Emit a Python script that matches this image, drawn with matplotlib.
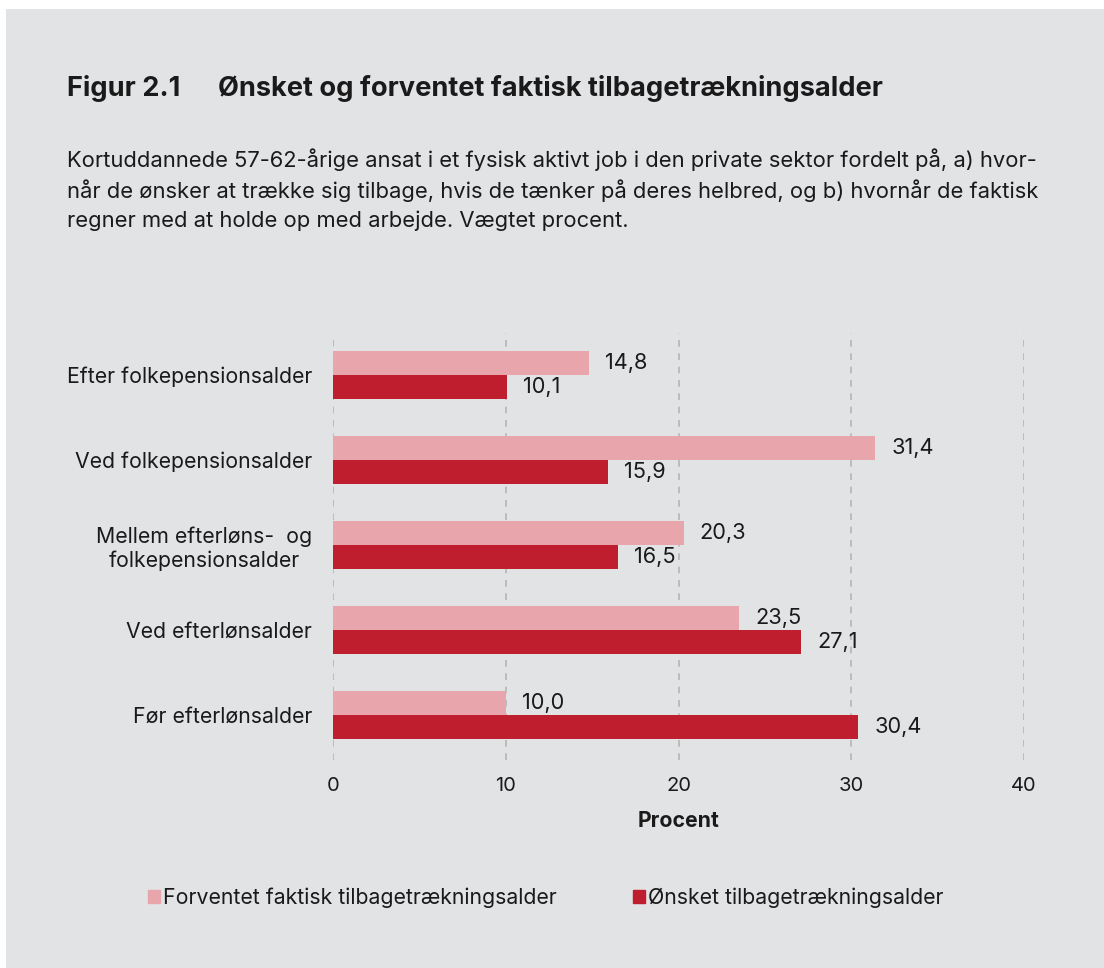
import matplotlib.pyplot as plt
import matplotlib.patches as mpatches
import numpy as np

plt.rcParams['font.family'] = ['Inter', 'DejaVu Sans']

# data (bottom to top)
categories = ["Før efterlønsalder", "Ved efterlønsalder",
              "Mellem efterløns-  og\nfolkepensionsalder",
              "Ved folkepensionsalder", "Efter folkepensionsalder"]
forventet = [10.0, 23.5, 20.3, 31.4, 14.8]
oensket = [30.4, 27.1, 16.5, 15.9, 10.1]
xticks = [0, 10, 20, 30, 40]

bg = "#e2e3e5"
pink = "#e8a6ac"
red = "#be1e2d"
txt = "#1a1a1a"

fig = plt.figure(figsize=(11.04, 9.68), dpi=100)
fig.patch.set_facecolor("white")
# grey panel (small white margin top/left as in source)
fig.patches.append(mpatches.Rectangle((6/1104, 0), 1, 1 - 9/968, transform=fig.transFigure,
                                      facecolor=bg, edgecolor="none", zorder=-10))

fig.text(67/1104, 1 - 88/968, "Figur 2.1", fontsize=19.6, fontweight="bold", color=txt, va="center")
fig.text(218/1104, 1 - 88/968, "Ønsket og forventet faktisk tilbagetrækningsalder",
         fontsize=19.6, fontweight="bold", color=txt, va="center")
fig.text(67/1104, 1 - 148/968,
         "Kortuddannede 57-62-årige ansat i et fysisk aktivt job i den private sektor fordelt på, a) hvor-\n"
         "når de ønsker at trække sig tilbage, hvis de tænker på deres helbred, og b) hvornår de faktisk\n"
         "regner med at holde op med arbejde. Vægtet procent.",
         fontsize=15.8, color=txt, va="top", linespacing=1.48)

ax = fig.add_axes([333/1104, 1 - 760/968, 691/1104, 427/968])
ax.set_facecolor("none")

y = np.arange(len(categories))
h = 0.282
b1 = ax.barh(y + h/2, forventet, height=h, color=pink, label="Forventet faktisk tilbagetrækningsalder")
b2 = ax.barh(y - h/2, oensket, height=h, color=red, label="Ønsket tilbagetrækningsalder")

for bars, vals in [(b1, forventet), (b2, oensket)]:
    for bar, v in zip(bars, vals):
        ax.annotate(f"{v:.1f}".replace(".", ","), (bar.get_width(), bar.get_y() + bar.get_height()/2),
                    xytext=(11.5, 0), textcoords="offset points", va="center", ha="left",
                    fontsize=15.7, color=txt)

ax.set_xlim(0, 40)
ax.set_ylim(-0.53, 4.49)
ax.set_xticks(xticks)
ax.set_yticks(y)
ax.set_yticklabels(categories, ha="right", multialignment="center")
ax.tick_params(axis="both", length=0, labelsize=15.3, labelcolor=txt)
ax.tick_params(axis="x", pad=12, labelsize=14.5)
ax.tick_params(axis="y", pad=15)
for s in ax.spines.values():
    s.set_visible(False)
ax.set_axisbelow(True)
ax.grid(axis="x", color="#b5b5b5", linestyle=(0, (4, 4)), linewidth=1.2)
ax.set_xlabel("Procent", fontsize=15.3, fontweight="bold", color=txt, labelpad=12)

handles = [mpatches.Patch(color=pink), mpatches.Patch(color=red)]
fig.legend(handles, ["Forventet faktisk tilbagetrækningsalder", "Ønsket tilbagetrækningsalder"],
           loc="center left", bbox_to_anchor=(129/1104, 1 - 898/968), ncol=2, frameon=False,
           fontsize=15.3, handlelength=0.55, handleheight=0.55, handletextpad=0.15,
           columnspacing=3.6, labelcolor=txt)

plt.savefig("out.png", dpi=100, facecolor=fig.get_facecolor())
plt.close()
